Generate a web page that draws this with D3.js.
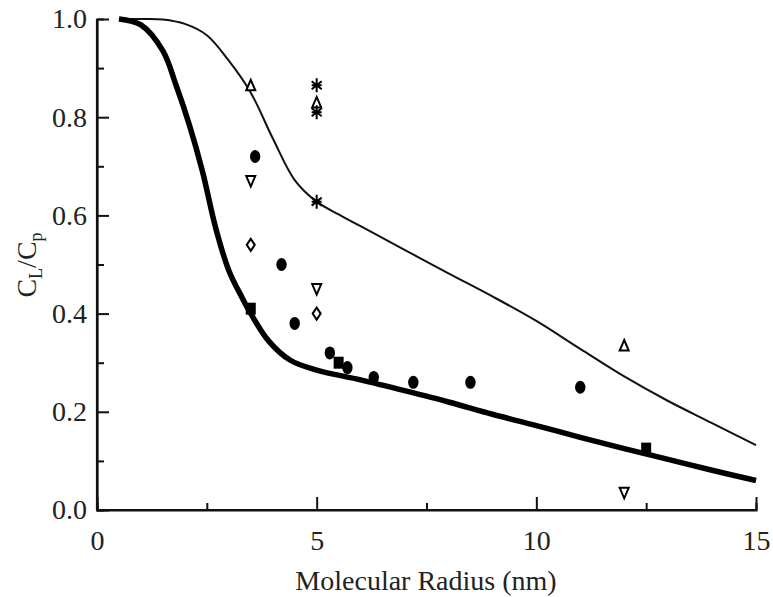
<!DOCTYPE html>
<html>
<head>
<meta charset="utf-8">
<script src="https://cdn.jsdelivr.net/npm/d3@7"></script>
<style>
  body { margin: 0; background: #fff; }
</style>
</head>
<body>
<div id="chart"></div>
<script>
// --- data ---
var thinCurve = [
  [0.5, 1.0], [1, 1.0], [1.5, 0.999], [2, 0.99], [2.5, 0.967], [3, 0.915],
  [3.5, 0.85], [4, 0.757], [4.5, 0.672], [5, 0.628], [5.5, 0.602], [6, 0.578],
  [7, 0.53], [8, 0.482], [9, 0.435], [10, 0.385], [11, 0.328], [12, 0.272],
  [13, 0.222], [14, 0.177], [15, 0.132]
];
var thickCurve = [
  [0.5, 1.0], [1, 0.988], [1.5, 0.935], [1.8, 0.865], [2.1, 0.785], [2.4, 0.69],
  [2.7, 0.575], [3, 0.488], [3.3, 0.433], [3.5, 0.40], [3.9, 0.345], [4.4, 0.305],
  [5, 0.285], [6, 0.265], [7, 0.243], [8, 0.22], [9, 0.195], [10, 0.172],
  [11, 0.148], [12, 0.125], [13, 0.103], [14, 0.081], [15, 0.06]
];
var circles = [[3.6, 0.72], [4.2, 0.50], [4.5, 0.38], [5.3, 0.32], [5.7, 0.29],
               [6.3, 0.27], [7.2, 0.26], [8.5, 0.26], [11, 0.25]];
var squares = [[3.5, 0.41], [5.5, 0.30], [12.5, 0.125]];
var upTriangles = [[3.5, 0.865], [5, 0.83], [12, 0.335]];
var downTriangles = [[3.5, 0.67], [5, 0.45], [12, 0.035]];
var diamonds = [[3.5, 0.54], [5, 0.40]];
var asterisks = [[5, 0.865], [5, 0.81], [5, 0.628]];

var xMajor = [0, 5, 10, 15];
var xMinor = [2.5, 7.5, 12.5];
var yMajor = [0, 0.2, 0.4, 0.6, 0.8, 1.0];
var yMinor = [0.1, 0.3, 0.5, 0.7, 0.9];

// --- layout ---
var W = 773, H = 597;
var serif = "Liberation Serif";
var svg = d3.select("#chart").append("svg")
  .attr("width", W)
  .attr("height", H);

var x = d3.scaleLinear().domain([0, 15]).range([97, 756]);
var y = d3.scaleLinear().domain([0, 1]).range([510, 19]);

// axes (ticks point inward)
var xAxis = svg.append("g").attr("transform", "translate(0," + y(0) + ")");
xAxis.call(d3.axisBottom(x).tickValues(xMajor).tickSize(-13).tickPadding(20).tickFormat(d3.format("d")));
xAxis.append("g").call(d3.axisBottom(x).tickValues(xMinor).tickSize(-7).tickFormat(""));

var yAxis = svg.append("g").attr("transform", "translate(" + x(0) + ",0)");
yAxis.call(d3.axisLeft(y).tickValues(yMajor).tickSize(-12).tickPadding(10).tickFormat(d3.format(".1f")));
yAxis.append("g").call(d3.axisLeft(y).tickValues(yMinor).tickSize(-7).tickFormat(""));

svg.selectAll("g").attr("font-family", serif).attr("font-size", 28);
svg.selectAll(".domain").attr("stroke", "#111").attr("stroke-width", 2.2);
svg.selectAll(".tick line").attr("stroke", "#111").attr("stroke-width", 2);
svg.selectAll(".tick text")
  .attr("font-family", serif)
  .attr("font-size", 28)
  .attr("fill", "#222");
xAxis.select(".domain").attr("d", "M" + x(0) + ",0H" + x(15));
yAxis.select(".domain").attr("d", "M0," + y(0) + "V" + y(1));

// curves
var line = d3.line()
  .x(function(d){ return x(d[0]); })
  .y(function(d){ return y(d[1]); })
  .curve(d3.curveCatmullRom.alpha(0.5));

svg.append("path").datum(thinCurve)
  .attr("d", line)
  .attr("fill", "none")
  .attr("stroke", "#111")
  .attr("stroke-width", 2);

svg.append("path").datum(thickCurve)
  .attr("d", line)
  .attr("fill", "none")
  .attr("stroke", "#000")
  .attr("stroke-width", 5.5);

// markers
var marks = svg.append("g");

marks.selectAll("ellipse.c").data(circles).enter()
  .append("ellipse")
  .attr("cx", function(d){ return x(d[0]); })
  .attr("cy", function(d){ return y(d[1]); })
  .attr("rx", 5.2)
  .attr("ry", 6.5)
  .attr("fill", "#000");

marks.selectAll("rect.s").data(squares).enter()
  .append("rect")
  .attr("x", function(d){ return x(d[0]) - 5; })
  .attr("y", function(d){ return y(d[1]) - 6; })
  .attr("width", 10)
  .attr("height", 12)
  .attr("fill", "#000");

marks.selectAll("path.up").data(upTriangles).enter()
  .append("path")
  .attr("transform", function(d){ return "translate(" + x(d[0]) + "," + y(d[1]) + ")"; })
  .attr("d", "M0,-5.5L4.5,5L-4.5,5Z")
  .attr("fill", "#fff")
  .attr("stroke", "#000")
  .attr("stroke-width", 2);

marks.selectAll("path.down").data(downTriangles).enter()
  .append("path")
  .attr("transform", function(d){ return "translate(" + x(d[0]) + "," + y(d[1]) + ")"; })
  .attr("d", "M0,5.5L4.5,-5L-4.5,-5Z")
  .attr("fill", "#fff")
  .attr("stroke", "#000")
  .attr("stroke-width", 2);

marks.selectAll("path.dia").data(diamonds).enter()
  .append("path")
  .attr("transform", function(d){ return "translate(" + x(d[0]) + "," + y(d[1]) + ")"; })
  .attr("d", "M0,-6L4,0L0,6L-4,0Z")
  .attr("fill", "#fff")
  .attr("stroke", "#000")
  .attr("stroke-width", 2);

marks.selectAll("path.ast").data(asterisks).enter()
  .append("path")
  .attr("transform", function(d){ return "translate(" + x(d[0]) + "," + y(d[1]) + ")"; })
  .attr("d", "M0,-7V7M-5,-4L5,4M-5,4L5,-4M-5,0H5")
  .attr("fill", "none")
  .attr("stroke", "#000")
  .attr("stroke-width", 2);

// axis titles
svg.append("text")
  .attr("x", 426)
  .attr("y", 590)
  .attr("text-anchor", "middle")
  .attr("fill", "#222")
  .attr("font-family", serif)
  .attr("font-size", 28)
  .text("Molecular Radius (nm)");

var yl = svg.append("text")
  .attr("transform", "translate(36,265) rotate(-90)")
  .attr("text-anchor", "middle")
  .attr("fill", "#222")
  .attr("font-family", serif)
  .attr("font-size", 28);
yl.append("tspan").text("C");
yl.append("tspan").attr("dy", 6).attr("font-size", 18).text("L");
yl.append("tspan").attr("dy", -6).text("/C");
yl.append("tspan").attr("dy", 6).attr("font-size", 18).text("p");
</script>
</body>
</html>
